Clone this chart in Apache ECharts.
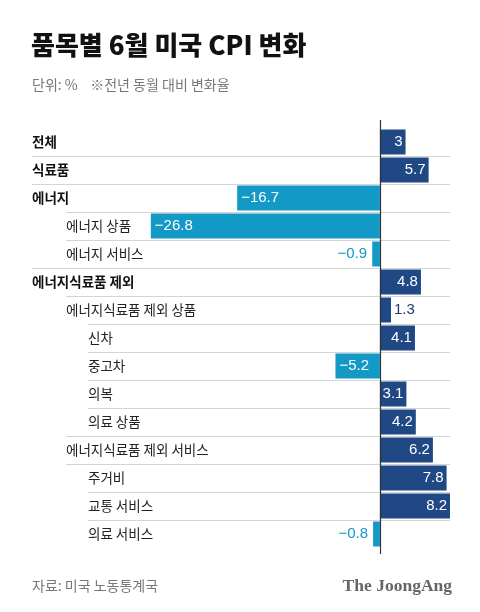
<!DOCTYPE html>
<html><head><meta charset="utf-8">
<script src="https://cdn.jsdelivr.net/npm/echarts@6/dist/echarts.min.js"></script>
<style>html,body{margin:0;padding:0;background:#fff}#c{width:480px;height:612px}</style>
</head><body><div id="c"></div>
<script>
var categories = ['전체','식료품','에너지','에너지 상품','에너지 서비스','에너지식료품 제외','에너지식료품 제외 상품','신차','중고차','의복','의료 상품','에너지식료품 제외 서비스','주거비','교통 서비스','의료 서비스'];
var levels =     [0,0,0,1,1,0,1,2,2,2,2,1,2,2,2];
var values =     [3,5.7,-16.7,-26.8,-0.9,4.8,1.3,4.1,-5.2,3.1,4.2,6.2,7.8,8.2,-0.8];
var ruleLevels = [0,0,0,1,1,0,1,2,2,2,2,1,1,2,2];

var NAVY = '#1f4884', CYAN = '#1399c6';
var INDENT = [32, 66, 88];
var KR = '"Noto Sans CJK KR", sans-serif';
var NUM = '"Liberation Sans", Arial, sans-serif';

function fmt(v){ return v < 0 ? '\u2212' + Math.abs(v) : String(v); }

var barData = values.map(function(v){
  var small = Math.abs(v) < 2;
  var lab;
  if (v >= 0) {
    lab = small ? {position:'right', distance:3, color:'#1f3b6e'} : {position:'insideRight', distance:3, color:'#fff'};
  } else {
    lab = small ? {position:'left', distance:5, color:CYAN} : {position:'insideLeft', distance:4, color:'#fff'};
  }
  return {value: v, itemStyle:{color: v >= 0 ? NAVY : CYAN}, label: lab};
});

var chart = echarts.init(document.getElementById('c'), null, {renderer:'canvas'});
chart.setOption({
  animation:false,
  backgroundColor:'#fff',
  title:[
    {text:'품목별 6월 미국 CPI 변화', left:26, top:27, textStyle:{fontFamily:KR, fontSize:26, fontWeight:900, color:'#111'}},
    {text:'단위: %    ※전년 동월 대비 변화율', left:27, top:73, textStyle:{fontFamily:KR, fontSize:14, fontWeight:'normal', color:'#777'}},
    {text:'자료: 미국 노동통계국', left:27, top:574, textStyle:{fontFamily:KR, fontSize:14, fontWeight:'normal', color:'#777'}},
    {text:'The JoongAng', right:23, top:572, textStyle:{fontFamily:'"Liberation Serif", "DejaVu Serif", serif', fontSize:17.5, fontWeight:'bold', color:'#666'}}
  ],
  grid:{left:38, right:30, top:128, height:420, containLabel:false},
  xAxis:{type:'value', min:-40, max:8.2, show:false},
  yAxis:{type:'category', data:categories, inverse:true,
    axisLine:{show:false}, axisTick:{show:false}, splitLine:{show:false},
    axisLabel:{align:'left', margin:6, fontFamily:KR, fontSize:13.5, color:'#222',
      formatter:function(v, i){ return '{l' + levels[i] + '|' + v + '}'; },
      rich:{
        l0:{fontFamily:KR, fontSize:13.5, fontWeight:'bold', color:'#111'},
        l1:{fontFamily:KR, fontSize:13.5, color:'#222', padding:[0,0,0,INDENT[1]-INDENT[0]]},
        l2:{fontFamily:KR, fontSize:13.5, color:'#222', padding:[0,0,0,INDENT[2]-INDENT[0]]}
      }}
  },
  series:[
    {type:'custom', z:1, silent:true,
      data: categories.map(function(c, i){ return [0, i, ruleLevels[i]]; }),
      encode:{x:0, y:1},
      renderItem:function(params, api){
        var i = api.value(1);
        if (i === 0) return null;
        var c = api.coord([0, i]);
        var h = api.size([0, 1])[1];
        var y = Math.round(c[1] - h/2) + 0.5;
        var right = params.coordSys.x + params.coordSys.width;
        return {type:'line', shape:{x1:INDENT[api.value(2)], y1:y, x2:right, y2:y},
          style:{stroke:'#d4d4d4', lineWidth:1}};
      }
    },
    {type:'bar', z:2, data:barData, barWidth:25,
      label:{show:true, fontFamily:NUM, fontSize:15, formatter:function(p){ return fmt(p.value); }}
    },
    {type:'custom', z:3, silent:true,
      data: categories.map(function(c, i){ return [0, i]; }),
      encode:{x:0, y:1},
      renderItem:function(params, api){
        var i = api.value(1);
        var c = api.coord([0, i]);
        var h = api.size([0, 1])[1];
        var top = c[1] - h/2 - (i === 0 ? 8 : 0);
        var bot = c[1] + h/2 + (i === categories.length - 1 ? 6 : 0);
        var x = Math.round(c[0]) + 0.5;
        return {type:'line', shape:{x1:x, y1:top, x2:x, y2:bot}, style:{stroke:'#333', lineWidth:1.2}};
      }
    }
  ]
});
</script></body></html>
